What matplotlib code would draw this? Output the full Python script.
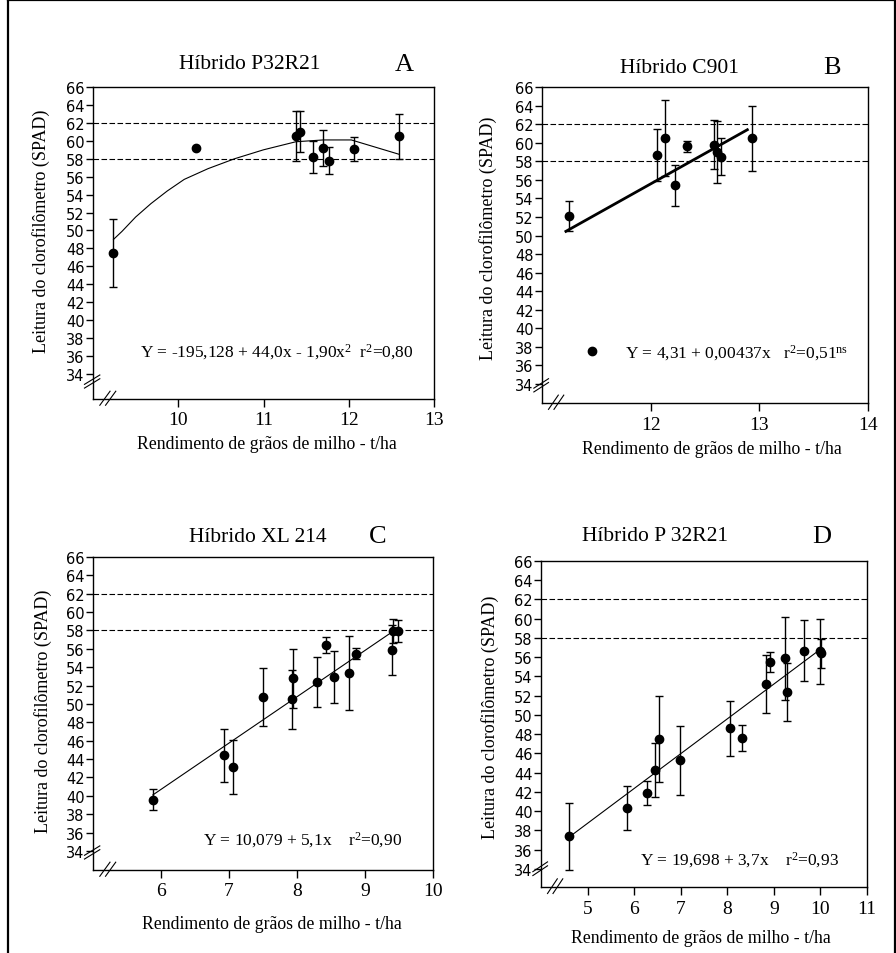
import matplotlib
matplotlib.use('Agg')
import matplotlib.pyplot as plt
from matplotlib.lines import Line2D

plt.rcParams['font.family'] = ['Liberation Serif', 'DejaVu Serif']
plt.rcParams['mathtext.fontset'] = 'custom'
plt.rcParams['mathtext.rm'] = 'Liberation Serif'
plt.rcParams['mathtext.it'] = 'Liberation Serif:italic'

# Panel A - Hibrido P32R21
a_x = [9.23, 10.21, 11.38, 11.43, 11.58, 11.70, 11.77, 12.06, 12.59]
a_y = [47.5, 59.2, 60.5, 61.0, 58.2, 59.2, 57.8, 59.1, 60.5]
a_err = [3.8, 0.0, 2.8, 2.3, 1.8, 2.0, 1.5, 1.3, 2.5]
a_fit_x = [9.24, 9.34, 9.50, 9.68, 9.87, 10.07, 10.35, 10.66, 11.0, 11.38, 11.70, 12.03, 12.59]
a_fit_y = [49.0, 49.9, 51.5, 53.0, 54.4, 55.7, 56.9, 58.0, 59.0, 59.9, 60.1, 60.1, 58.5]

# Panel B - Hibrido C901
b_x = [11.25, 12.06, 12.13, 12.22, 12.33, 12.58, 12.61, 12.65, 12.93]
b_y = [52.1, 58.7, 60.5, 55.4, 59.6, 59.8, 59.0, 58.5, 60.5]
b_err = [1.6, 2.8, 4.1, 2.2, 0.6, 2.6, 3.3, 2.0, 3.5]
b_fit_x = [11.22, 12.89]
b_fit_y = [50.45, 61.4]

# Panel C - Hibrido XL 214
c_x = [5.88, 6.92, 7.06, 7.50, 7.93, 7.94, 8.30, 8.42, 8.54, 8.77, 8.86, 9.39, 9.41, 9.48]
c_y = [39.6, 44.4, 43.1, 50.75, 50.5, 52.8, 52.4, 56.4, 52.95, 53.4, 55.45, 55.9, 57.9, 57.9]
c_err = [1.15, 2.9, 2.95, 3.2, 3.2, 3.2, 2.75, 0.9, 2.8, 4.0, 0.6, 2.7, 1.3, 1.2]
c_fit_x = [5.88, 9.41]
c_fit_y = [40.1, 57.9]

# Panel D - Hibrido P 32R21
d_x = [4.60, 5.84, 6.28, 6.44, 6.53, 6.98, 8.05, 8.32, 8.83, 8.92, 9.24, 9.28, 9.65, 9.99, 10.02]
d_y = [37.4, 40.3, 41.9, 44.3, 47.5, 45.3, 48.6, 47.6, 53.2, 55.5, 55.9, 52.4, 56.7, 56.6, 56.4]
d_err = [3.5, 2.3, 1.2, 2.8, 4.5, 3.6, 2.85, 1.35, 3.0, 1.0, 4.3, 3.0, 3.2, 3.4, 1.5]
d_fit_x = [4.60, 10.02]
d_fit_y = [37.3, 56.9]

ref_levels = [58, 62]
y_ticks = list(range(34, 67, 2))

xlabel = 'Rendimento de grãos de milho - t/ha'
ylabel = 'Leitura do clorofilômetro (SPAD)'


def draw_break(ax):
    # double slashes on both axes near the origin
    kw = dict(transform=ax.transAxes, color='black', lw=0.8, clip_on=False)
    for d in (0.0, 0.012):
        ax.plot([-0.025, 0.02], [0.035 + d, 0.065 + d], **kw)
        ax.plot([0.02 + d * 1.4, 0.05 + d * 1.4], [-0.02, 0.025], **kw)


def draw_panel(ax, x, y, err, fit_x, fit_y, fit_lw, xlim, ylim, xticks,
               title, title_x, letter, letter_x, head_y, eq, eq_xy,
               ylab_xy, xlab_xy, tick_pad):
    ax.set_xlim(*xlim)
    ax.set_ylim(*ylim)
    for lv in ref_levels:
        ax.axhline(lv, color='black', lw=0.8, ls=(0, (5, 2.2)))
    ax.plot(fit_x, fit_y, color='black', lw=fit_lw)
    ax.errorbar(x, y, yerr=err, fmt='o', color='black', ms=6,
                ecolor='black', elinewidth=1, capsize=3, capthick=1)
    ax.set_xticks(xticks)
    ax.set_yticks(y_ticks)
    ax.tick_params(axis='x', direction='out', length=5.5, width=1,
                   labelsize=14, pad=tick_pad)
    ax.tick_params(axis='y', direction='out', length=5, width=1,
                   labelsize=10.5, pad=1)
    for lab in ax.get_yticklabels():
        lab.set_family('DejaVu Sans')
    for sp in ax.spines.values():
        sp.set_linewidth(1)
    ax.set_ylabel(ylabel, fontsize=13)
    ax.yaxis.set_label_coords(*ylab_xy)
    ax.set_xlabel(xlabel, fontsize=12.8)
    ax.xaxis.set_label_coords(*xlab_xy)
    ax.text(title_x, head_y, title, transform=ax.transAxes,
            ha='center', va='center', fontsize=15.5)
    ax.text(letter_x, head_y, letter, transform=ax.transAxes,
            ha='center', va='center', fontsize=19)
    if eq is not None:
        ax.text(eq_xy[0], eq_xy[1], eq, transform=ax.transAxes,
                ha='center', va='center', fontsize=12.5)
    draw_break(ax)


fig = plt.figure(figsize=(8.96, 9.54), dpi=100)

# outer frame
for xs, ys in [([0.009, 0.009], [0.0, 0.999]), ([0.009, 0.999], [0.999, 0.999]),
               ([0.999, 0.999], [0.999, 0.0])]:
    fig.add_artist(Line2D(xs, ys, color='black', lw=1.6, transform=fig.transFigure))

ax_a = fig.add_axes([0.1038, 0.5807, 0.3806, 0.3270])
ax_b = fig.add_axes([0.6049, 0.5765, 0.3638, 0.3312])
ax_c = fig.add_axes([0.1038, 0.0870, 0.3795, 0.3281])
ax_d = fig.add_axes([0.6038, 0.0692, 0.3638, 0.3417])

draw_panel(ax_a, a_x, a_y, a_err, a_fit_x, a_fit_y, 0.8, (9, 13), (31.2, 66),
           [10, 11, 12, 13], 'Híbrido P32R21', 0.46, 'A', 0.912, 1.074,
           r'Y = -195,128 + 44,0x - 1,90x$^2$  r$^2$=0,80', (0.54, 0.154),
           (-0.126, 0.54), (0.51, -0.115), 3)

draw_panel(ax_b, b_x, b_y, b_err, b_fit_x, b_fit_y, 2.0, (11, 14), (31.95, 66),
           [12, 13, 14], 'Híbrido C901', 0.423, 'B', 0.89, 1.063,
           None, None, (-0.138, 0.525), (0.52, -0.117), 4)
eq_b = r'Y = 4,31 + 0,00437x   r$^2$=0,51$^{\mathrm{ns}}$'
key = Line2D([], [], marker='o', color='black', ls='none', ms=6)
ax_b.legend([key], [eq_b], loc='center left', bbox_to_anchor=(0.10, 0.161),
            frameon=False, handlelength=1.0, handletextpad=1.4,
            fontsize=12.5, borderpad=0)

draw_panel(ax_c, c_x, c_y, c_err, c_fit_x, c_fit_y, 0.8, (5, 10), (31.93, 66),
           [6, 7, 8, 9, 10], 'Híbrido XL 214', 0.485, 'C', 0.838, 1.067,
           r'Y = 10,079 + 5,1x    r$^2$=0,90', (0.616, 0.099),
           (-0.121, 0.51), (0.526, -0.144), 3)

draw_panel(ax_d, d_x, d_y, d_err, d_fit_x, d_fit_y, 0.8, (4, 11), (32.13, 66),
           [5, 6, 7, 8, 9, 10, 11], 'Híbrido P 32R21', 0.35, 'D', 0.862, 1.077,
           r'Y = 19,698 + 3,7x    r$^2$=0,93', (0.609, 0.086),
           (-0.129, 0.525), (0.49, -0.129), 4)

fig.savefig('out.png', dpi=100)
